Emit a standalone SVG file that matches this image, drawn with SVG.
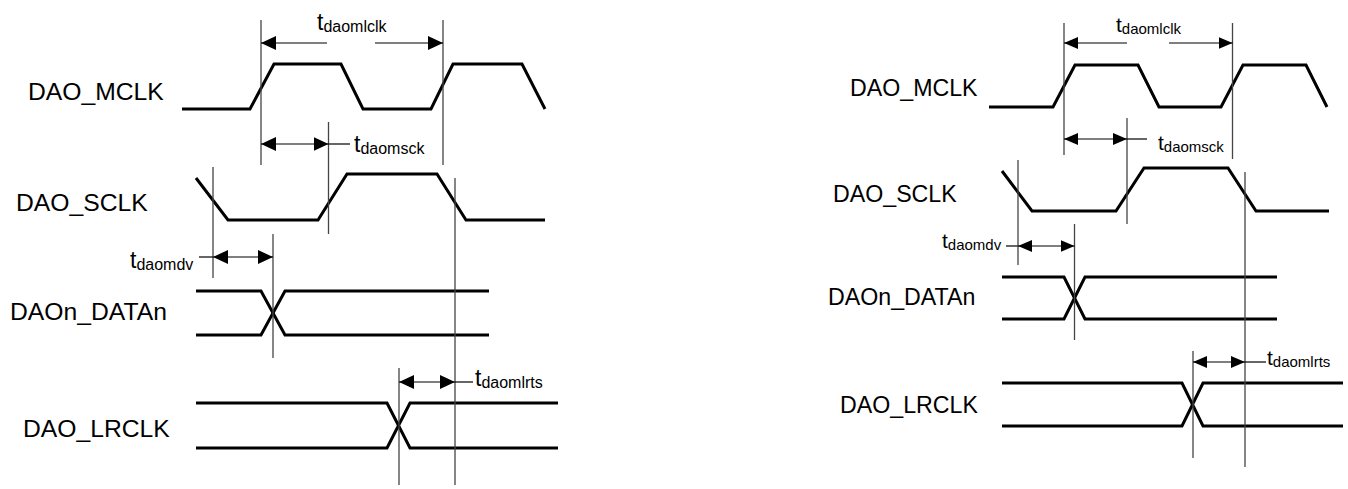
<svg xmlns="http://www.w3.org/2000/svg" width="1348" height="489" viewBox="0 0 1348 489">
<style>
.sig{fill:none;stroke:#000;stroke-width:3;stroke-linejoin:miter}
.vl{stroke:#444;stroke-width:1.3;fill:none}
.ar{stroke:#000;stroke-width:1.2;fill:none}
.lbl{font-family:"Liberation Sans",Arial,sans-serif;fill:#000}
.L{font-size:24.7px}
.R{font-size:23.2px}
.tL{font-size:23px}
.tR{font-size:21px}
</style>
<defs>
<marker id="ahL" markerUnits="userSpaceOnUse" markerWidth="16" markerHeight="15" refX="15" refY="7" orient="auto-start-reverse"><path d="M0,0 L15,7 L0,14 z" fill="#000"/></marker>
<marker id="ahR" markerUnits="userSpaceOnUse" markerWidth="15" markerHeight="13" refX="14" refY="6" orient="auto-start-reverse"><path d="M0,0 L14,6 L0,12 z" fill="#000"/></marker>
</defs>
<rect width="1348" height="489" fill="#fff"/>

<g id="left-mclk">
<text class="lbl L" x="28" y="100">DAO_MCLK</text>
<polyline class="sig" points="182,109 250,109 274,64 341,64 363,109 431,109 453,64 522,64 545,109"/>
</g>
<g id="left-sclk">
<text class="lbl L" x="16" y="211">DAO_SCLK</text>
<polyline class="sig" points="196,178 228,220 318,220 347,174 437,174 466,220 545,220"/>
</g>
<g id="left-data">
<text class="lbl L" x="10" y="320">DAOn_DATAn</text>
<polyline class="sig" points="196,291 261,291 285,335 489,335"/>
<polyline class="sig" points="196,335 261,335 285,291 489,291"/>
</g>
<g id="left-lrclk">
<text class="lbl L" x="23" y="437">DAO_LRCLK</text>
<polyline class="sig" points="196,403 387,403 410,448 558,448"/>
<polyline class="sig" points="196,448 387,448 410,403 558,403"/>
</g>

<g id="right-mclk">
<text class="lbl R" x="850" y="96">DAO_MCLK</text>
<polyline class="sig" points="989,107 1053,107 1075,65 1138,65 1159,107 1221,107 1243,65 1306,65 1327,107"/>
</g>
<g id="right-sclk">
<text class="lbl R" x="833" y="202">DAO_SCLK</text>
<polyline class="sig" points="1002,171 1032,211 1116,211 1144,168 1228,168 1256,211 1329,211"/>
</g>
<g id="right-data">
<text class="lbl R" x="828" y="305">DAOn_DATAn</text>
<polyline class="sig" points="1002,277 1064,277 1085,319 1277,319"/>
<polyline class="sig" points="1002,319 1064,319 1085,277 1277,277"/>
</g>
<g id="right-lrclk">
<text class="lbl R" x="840" y="413">DAO_LRCLK</text>
<polyline class="sig" points="1002,383 1182,383 1203,426 1343,426"/>
<polyline class="sig" points="1002,426 1182,426 1203,383 1343,383"/>
</g>

<g id="connectors">
<line class="vl" x1="261" y1="20" x2="261" y2="165"/>
<line class="vl" x1="443" y1="20" x2="443" y2="165"/>
<line class="vl" x1="328.5" y1="122" x2="328.5" y2="234"/>
<line class="vl" x1="213" y1="167" x2="213" y2="278"/>
<line class="vl" x1="273" y1="234" x2="273" y2="358"/>
<line class="vl" x1="455" y1="178" x2="455" y2="485"/>
<line class="vl" x1="399" y1="368" x2="399" y2="485"/>
<line class="ar" x1="261" y1="43" x2="327" y2="43" marker-start="url(#ahL)"/>
<line class="ar" x1="375" y1="43" x2="443" y2="43" marker-end="url(#ahL)"/>
<line class="ar" x1="261" y1="144" x2="328.5" y2="144" marker-start="url(#ahL)" marker-end="url(#ahL)"/>
<line class="ar" x1="328.5" y1="144" x2="350" y2="144"/>
<line class="ar" x1="199" y1="257" x2="213" y2="257"/>
<line class="ar" x1="213" y1="257" x2="273" y2="257" marker-start="url(#ahL)" marker-end="url(#ahL)"/>
<line class="ar" x1="399" y1="382" x2="455" y2="382" marker-start="url(#ahL)" marker-end="url(#ahL)"/>
<line class="ar" x1="455" y1="382" x2="473" y2="382"/>
<line class="vl" x1="1064" y1="23" x2="1064" y2="155"/>
<line class="vl" x1="1232.5" y1="23" x2="1232.5" y2="159"/>
<line class="vl" x1="1127" y1="118" x2="1127" y2="224"/>
<line class="vl" x1="1018" y1="160" x2="1018" y2="265"/>
<line class="vl" x1="1074.5" y1="224" x2="1074.5" y2="340"/>
<line class="vl" x1="1245" y1="172" x2="1245" y2="467"/>
<line class="vl" x1="1193" y1="351" x2="1193" y2="458"/>
<line class="ar" x1="1064" y1="43" x2="1127" y2="43" marker-start="url(#ahR)"/>
<line class="ar" x1="1169" y1="43" x2="1232.5" y2="43" marker-end="url(#ahR)"/>
<line class="ar" x1="1064" y1="139" x2="1127" y2="139" marker-start="url(#ahR)" marker-end="url(#ahR)"/>
<line class="ar" x1="1127" y1="139" x2="1147" y2="139"/>
<line class="ar" x1="1006" y1="246" x2="1018" y2="246"/>
<line class="ar" x1="1018" y1="246" x2="1074.5" y2="246" marker-start="url(#ahR)" marker-end="url(#ahR)"/>
<line class="ar" x1="1193" y1="362" x2="1245" y2="362" marker-start="url(#ahR)" marker-end="url(#ahR)"/>
<line class="ar" x1="1245" y1="362" x2="1266" y2="362"/>
</g>

<g id="timing-labels">
<text class="lbl tL" x="317" y="30">t<tspan font-size="16" dy="2">daomlclk</tspan></text>
<text class="lbl tL" x="354" y="152">t<tspan font-size="16" dy="2">daomsck</tspan></text>
<text class="lbl tL" x="130" y="268">t<tspan font-size="16" dy="2">daomdv</tspan></text>
<text class="lbl tL" x="475" y="386">t<tspan font-size="16" dy="2">daomlrts</tspan></text>
<text class="lbl tR" x="1116" y="32">t<tspan font-size="15" dy="2">daomlclk</tspan></text>
<text class="lbl tR" x="1158" y="150">t<tspan font-size="15" dy="2">daomsck</tspan></text>
<text class="lbl tR" x="942" y="248">t<tspan font-size="15" dy="2">daomdv</tspan></text>
<text class="lbl tR" x="1267" y="365">t<tspan font-size="15" dy="2">daomlrts</tspan></text>
</g>
</svg>
